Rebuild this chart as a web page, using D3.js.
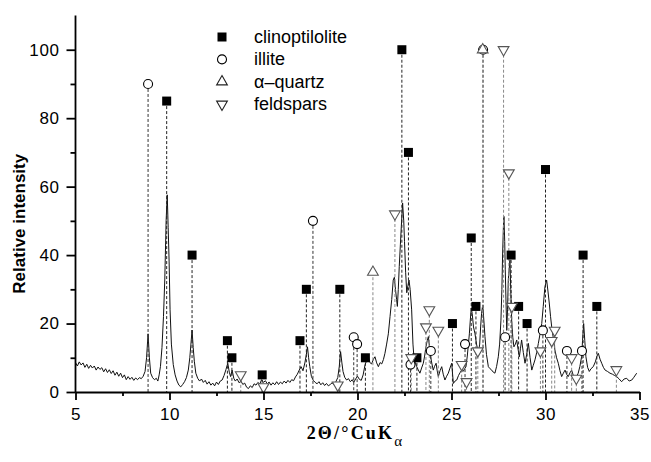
<!DOCTYPE html>
<html>
<head>
<meta charset="utf-8">
<script src="https://cdn.jsdelivr.net/npm/d3@7"></script>
<style>
  html, body { margin: 0; padding: 0; background: #fff; }
  svg { display: block; }
  text { font-family: "Liberation Sans", Arial, Helvetica, sans-serif; }
</style>
</head>
<body>
<div id="chart"></div>
<script>
// XRD pattern, [2theta, relative intensity]
const pattern = [
  [5.0, 8.6], [5.1, 7.6], [5.2, 8.8], [5.3, 7.9], [5.4, 8.5], [5.5, 7.2], [5.6, 8.1], [5.7, 6.9],
  [5.8, 7.8], [5.9, 7.0], [6.0, 7.6], [6.1, 6.4], [6.2, 7.3], [6.3, 6.6], [6.4, 7.1], [6.5, 5.9],
  [6.6, 6.8], [6.7, 5.7], [6.8, 6.5], [6.9, 5.4], [7.0, 6.2], [7.1, 4.9], [7.2, 5.8], [7.3, 4.6],
  [7.4, 5.5], [7.5, 4.2], [7.6, 5.0], [7.7, 3.6], [7.8, 4.5], [7.9, 3.7], [8.0, 4.3], [8.1, 3.4],
  [8.2, 4.1], [8.3, 3.6], [8.4, 4.2], [8.5, 3.9], [8.6, 4.6], [8.7, 6.0], [8.78, 10], [8.86, 17],
  [8.93, 10], [9.0, 5.5], [9.1, 4.2], [9.2, 3.6], [9.3, 4.0], [9.38, 3.2], [9.45, 5.0], [9.52, 7.5],
  [9.6, 13], [9.68, 22], [9.75, 33], [9.82, 50], [9.88, 57.6], [9.93, 48], [9.98, 38], [10.03, 24],
  [10.1, 14], [10.2, 8], [10.3, 5], [10.4, 3.2], [10.5, 2.0], [10.6, 1.5], [10.7, 2.2], [10.8, 3.0],
  [10.9, 4.2], [11.0, 6.4], [11.08, 10], [11.14, 14], [11.2, 18.1], [11.26, 13], [11.32, 9], [11.4, 5.5],
  [11.5, 4.0], [11.6, 3.2], [11.7, 3.8], [11.8, 2.8], [11.9, 3.4], [12.0, 2.3], [12.1, 3.0], [12.2, 2.0],
  [12.3, 2.6], [12.4, 1.8], [12.5, 2.9], [12.6, 2.2], [12.7, 3.2], [12.8, 3.5], [12.9, 4.8], [13.0, 6.5],
  [13.1, 8.4], [13.18, 5.8], [13.25, 4.5], [13.33, 6.4], [13.42, 4.0], [13.5, 3.2], [13.6, 3.8], [13.7, 2.7],
  [13.8, 3.2], [13.9, 2.2], [14.0, 2.6], [14.1, 1.4], [14.2, 1.0], [14.3, 1.8], [14.4, 1.3], [14.5, 2.4],
  [14.6, 2.0], [14.7, 2.8], [14.8, 2.3], [14.9, 3.6], [15.0, 2.8], [15.1, 3.3], [15.2, 2.4], [15.3, 2.9],
  [15.4, 2.0], [15.5, 2.7], [15.6, 2.1], [15.7, 3.0], [15.8, 2.2], [15.9, 2.9], [16.0, 2.4], [16.1, 3.2],
  [16.2, 2.6], [16.3, 3.4], [16.4, 2.8], [16.5, 3.6], [16.6, 3.3], [16.7, 4.4], [16.8, 5.2], [16.9, 6.4],
  [17.0, 7.4], [17.1, 6.2], [17.2, 8.5], [17.28, 11], [17.34, 13.2], [17.4, 10], [17.46, 7.5], [17.55, 4.5],
  [17.65, 3.4], [17.75, 2.8], [17.85, 2.4], [17.95, 3.0], [18.05, 2.1], [18.15, 2.7], [18.25, 1.9], [18.35, 2.5],
  [18.45, 1.8], [18.55, 2.2], [18.65, 2.7], [18.75, 2.1], [18.85, 3.0], [18.95, 4.2], [19.03, 7.4], [19.1, 11.8],
  [19.17, 8.5], [19.23, 6.0], [19.32, 4.3], [19.42, 3.5], [19.52, 3.9], [19.62, 3.0], [19.72, 3.6], [19.8, 2.8],
  [19.9, 3.8], [20.0, 4.6], [20.1, 3.7], [20.2, 3.4], [20.3, 5.0], [20.4, 7.9], [20.5, 9.4], [20.58, 10.3],
  [20.66, 8.6], [20.75, 8.2], [20.85, 9.6], [20.93, 10.3], [21.02, 8.5], [21.11, 7.4], [21.2, 8.6], [21.29, 8.2],
  [21.38, 9.5], [21.46, 11.3], [21.55, 14], [21.64, 17], [21.73, 22], [21.82, 27], [21.9, 32.7], [21.96, 33.5],
  [22.02, 30], [22.08, 27], [22.12, 25], [22.17, 30], [22.22, 36.6], [22.28, 43], [22.33, 48.3], [22.4, 55.2],
  [22.46, 50], [22.5, 44], [22.56, 35], [22.62, 29], [22.68, 31], [22.74, 32.7], [22.8, 30], [22.88, 24],
  [22.95, 14], [23.0, 10.3], [23.08, 8.6], [23.15, 7.4], [23.23, 6.5], [23.32, 5.5], [23.41, 7.0], [23.5, 8.4],
  [23.57, 10.5], [23.64, 13.2], [23.71, 15], [23.77, 16.2], [23.83, 13], [23.89, 10.3], [23.96, 8.2], [24.03, 6.4],
  [24.1, 7.5], [24.18, 8.4], [24.24, 6.2], [24.3, 4.5], [24.39, 6.2], [24.48, 7.4], [24.56, 5.2], [24.65, 3.5],
  [24.74, 4.6], [24.83, 5.5], [24.92, 7.0], [25.01, 8.4], [25.06, 5.0], [25.1, 2.5], [25.19, 3.2], [25.28, 3.5],
  [25.37, 4.8], [25.45, 5.6], [25.54, 6.4], [25.62, 6.0], [25.7, 6.8], [25.77, 7.4], [25.84, 10.5], [25.9, 14],
  [25.95, 17], [26.0, 21], [26.05, 24.5], [26.1, 23], [26.17, 19], [26.25, 17], [26.33, 14], [26.43, 11.5],
  [26.5, 14], [26.55, 19], [26.6, 23], [26.66, 25.4], [26.72, 21], [26.78, 16.2], [26.86, 11], [26.96, 7.4],
  [27.05, 6.8], [27.14, 6.4], [27.22, 5.8], [27.31, 5.5], [27.4, 7.5], [27.49, 10.3], [27.56, 14], [27.63, 21],
  [27.68, 30], [27.72, 40.6], [27.76, 48], [27.79, 51.3], [27.83, 44], [27.86, 35.7], [27.9, 26], [27.94, 18],
  [27.98, 24], [28.02, 32.7], [28.07, 36], [28.11, 38.6], [28.15, 30], [28.2, 21], [28.26, 16], [28.32, 13.2],
  [28.4, 14], [28.47, 15.2], [28.54, 12.5], [28.61, 10.3], [28.67, 12.8], [28.73, 15.2], [28.82, 11.5], [28.91, 8.4],
  [29.0, 11], [29.09, 14.2], [29.18, 10], [29.27, 6.4], [29.35, 7.8], [29.44, 9.4], [29.53, 11.5], [29.62, 14.2],
  [29.71, 17], [29.8, 20], [29.88, 25], [29.97, 30.8], [30.06, 32.7], [30.13, 29.5], [30.2, 26], [30.27, 22],
  [30.33, 19], [30.42, 15.5], [30.5, 12.3], [30.59, 10], [30.68, 8.4], [30.77, 6.2], [30.86, 4.5], [30.95, 5.5],
  [31.04, 6.4], [31.12, 5.2], [31.21, 4.5], [31.3, 5.6], [31.39, 6.4], [31.48, 4.8], [31.57, 3.5], [31.65, 4.5],
  [31.74, 5.5], [31.83, 7.5], [31.92, 10.3], [31.97, 15], [32.03, 20], [32.09, 15], [32.15, 10.3], [32.24, 7.2],
  [32.33, 6.0], [32.42, 6.8], [32.54, 7.4], [32.65, 8.8], [32.74, 10.5], [32.81, 11.3], [32.9, 9.6], [32.99, 8.4],
  [33.08, 7.2], [33.17, 6.4], [33.3, 6.0], [33.43, 5.5], [33.56, 5.2], [33.68, 4.8], [33.79, 4.5], [33.92, 3.8],
  [34.05, 3.0], [34.18, 3.8], [34.32, 4.0], [34.45, 3.2], [34.59, 3.5], [34.7, 4.3], [34.85, 5.5]
];

// reference lines for each phase, [2theta, relative intensity]
const clinoptilolite = [
  [9.85, 85], [11.2, 40], [13.08, 15], [13.32, 10], [14.93, 5], [16.94, 15], [17.28, 30], [19.06, 30],
  [20.42, 10], [22.36, 100], [22.71, 70], [23.16, 10], [25.05, 20], [26.05, 45], [26.3, 25], [28.17, 40],
  [28.57, 25], [29.02, 20], [30.0, 65], [32.0, 40], [32.73, 25]
];
const illite = [
  [8.86, 90], [17.63, 50], [19.8, 16], [19.98, 14], [22.82, 8], [23.9, 12], [25.72, 14], [26.68, 100],
  [27.85, 16], [29.86, 18], [31.14, 12], [31.94, 12]
];
const quartz = [
  [20.82, 35], [26.66, 100]
];
const feldspars = [
  [13.79, 5], [15.0, 1.5], [18.95, 2], [21.99, 52], [22.86, 10], [23.64, 19], [23.82, 24], [24.3, 18],
  [25.54, 8], [25.8, 3], [26.4, 12], [27.77, 100], [28.05, 64], [28.21, 25], [29.73, 12], [30.33, 15],
  [30.49, 18], [31.39, 10], [31.64, 4], [33.77, 6.5]
];

const legendLabels = ['clinoptilolite', 'illite', '\u03b1\u2013quartz', 'feldspars'];
const xTicks = [5, 10, 15, 20, 25, 30, 35];
const xMinorTicks = [7.5, 12.5, 17.5, 22.5, 27.5, 32.5];
const yTicks = [0, 20, 40, 60, 80, 100];
const yMinorTicks = [10, 30, 50, 70, 90];

const W = 651, H = 462;
const margin = { left: 75.5, right: 11.5, top: 15.5, bottom: 70 };

const svg = d3.select('#chart').append('svg')
  .attr('width', W).attr('height', H)
  .attr('viewBox', `0 0 ${W} ${H}`);
svg.append('rect').attr('width', W).attr('height', H).attr('fill', '#fff');

const x = d3.scaleLinear().domain([5, 35]).range([margin.left, W - margin.right]);
const y = d3.scaleLinear().domain([0, 110]).range([H - margin.bottom, margin.top]);
const y0 = y(0);

// pattern
svg.append('path')
  .datum(pattern)
  .attr('fill', 'none')
  .attr('stroke', '#111')
  .attr('stroke-width', 1)
  .attr('stroke-linejoin', 'round')
  .attr('d', d3.line().x(d => x(d[0])).y(d => y(d[1])));

// phase marks: dashed drop line + symbol
const triUp = d3.symbol().type(d3.symbolTriangle).size(50);
const phases = [
  { data: clinoptilolite, kind: 'square', line: '#222' },
  { data: illite, kind: 'circle', line: '#333' },
  { data: quartz, kind: 'up', line: '#888' },
  { data: feldspars, kind: 'down', line: '#888' },
];

function drawSymbol(g, kind, cx, cy, stroke) {
  if (kind === 'square') {
    g.append('rect')
      .attr('x', cx - 4.5).attr('y', cy - 4.5)
      .attr('width', 9).attr('height', 9)
      .attr('fill', '#000');
  } else if (kind === 'circle') {
    g.append('circle')
      .attr('cx', cx).attr('cy', cy).attr('r', 4.5)
      .attr('fill', '#fff').attr('stroke', '#000').attr('stroke-width', 1.1);
  } else {
    g.append('path')
      .attr('d', triUp())
      .attr('transform', `translate(${cx},${cy}) rotate(${kind === 'down' ? 180 : 0})`)
      .attr('fill', '#fff').attr('stroke', stroke).attr('stroke-width', 1.1);
  }
}

const marks = svg.append('g').attr('class', 'marks');
phases.forEach(p => {
  marks.selectAll(null)
    .data(p.data)
    .join('line')
    .attr('x1', d => x(d[0])).attr('x2', d => x(d[0]))
    .attr('y1', d => y(d[1])).attr('y2', y0)
    .attr('stroke', p.line)
    .attr('stroke-width', 1)
    .attr('stroke-dasharray', '3 2');
});
phases.forEach(p => {
  p.data.forEach(d => drawSymbol(marks, p.kind, x(d[0]), y(d[1]), p.kind === 'circle' ? '#000' : '#555'));
});

// axes
svg.append('g').attr('transform', `translate(0,${y0})`)
  .call(d3.axisBottom(x).tickValues(xTicks).tickSize(8).tickSizeOuter(0).tickPadding(8));
svg.append('g').attr('transform', `translate(0,${y0})`)
  .call(d3.axisBottom(x).tickValues(xMinorTicks).tickSize(4).tickFormat(''))
  .call(g => g.select('.domain').remove());
const yAxis = svg.append('g').attr('transform', `translate(${margin.left},0)`)
  .call(d3.axisLeft(y).tickValues(yTicks).tickSize(9).tickSizeOuter(0).tickPadding(7));
svg.append('g').attr('transform', `translate(${margin.left},0)`)
  .call(d3.axisLeft(y).tickValues(yMinorTicks).tickSize(5).tickFormat(''))
  .call(g => g.select('.domain').remove());

svg.selectAll('.domain, .tick line').attr('stroke', '#000').attr('stroke-width', 1.8);
svg.selectAll('.tick text')
  .attr('fill', '#000')
  .style('font-family', '"Liberation Sans", Arial, sans-serif')
  .style('font-size', '17px')
  .style('letter-spacing', '0.6px');
// keep the y axis line running up to 110
yAxis.select('.domain').attr('d', `M0,${y0}V${margin.top}`);

// axis titles
svg.append('text')
  .attr('transform', `translate(25,${(y0 + margin.top) / 2 + 20}) rotate(-90)`)
  .attr('text-anchor', 'middle')
  .style('font-weight', 'bold')
  .style('font-size', '17px')
  .text('Relative intensity');

const xt = svg.append('text')
  .attr('x', (x(5) + x(35)) / 2 - 2)
  .attr('y', 439)
  .attr('text-anchor', 'middle')
  .style('font-family', '"Liberation Serif", "Times New Roman", serif')
  .style('font-weight', 'bold')
  .style('font-size', '18px')
  .style('letter-spacing', '2.2px');
xt.append('tspan').text('2\u0398/\u00b0CuK');
xt.append('tspan').attr('dy', 7).style('font-size', '15px').style('font-weight', 'normal').text('\u03b1');

// legend
const legend = svg.append('g').attr('transform', 'translate(222,37)');
const legendKinds = ['square', 'circle', 'up', 'down'];
legendLabels.forEach((label, i) => {
  const row = legend.append('g').attr('transform', `translate(0,${i * 22.4})`);
  drawSymbol(row, legendKinds[i], 0, 0, '#222');
  row.append('text')
    .attr('x', 32).attr('y', 6)
    .style('font-size', '18px')
    .text(label);
});
</script>
</body>
</html>
